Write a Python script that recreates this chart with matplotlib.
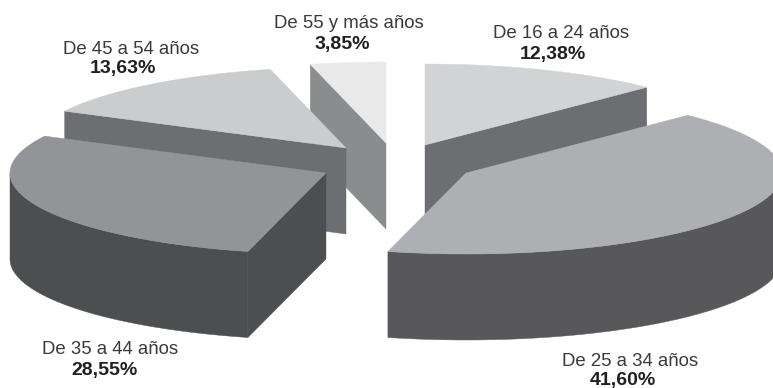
import numpy as np
import matplotlib
matplotlib.use('Agg')
import matplotlib.pyplot as plt
from matplotlib.patches import Polygon

labels = ['De 16 a 24 años', 'De 25 a 34 años', 'De 35 a 44 años', 'De 45 a 54 años', 'De 55 y más años']
values = [12.38, 41.60, 28.55, 13.63, 3.85]
value_labels = ['12,38%', '41,60%', '28,55%', '13,63%', '3,85%']

top_colors = ['#d1d3d4', '#aeafb2', '#929497', '#cbcccd', '#e9e9ea']
side_colors = ['#6d6e71', '#58585a', '#4d4e50', '#6d6e71', '#8a8c8e']

# exploded pie layout, in pixels
apex = [(425, 145), (466, 173), (326, 173), (346, 148), (386, 143)]
draw_order = [0, 4, 3, 2, 1]
label_pos = [(561, 34), (630, 361), (110, 349), (131, 49), (349, 24)]
pct_pos = [(553, 54), (623, 381), (104, 370), (123, 69), (342, 44)]
RX, RY, DEPTH = 316, 81, 86

plt.rcParams['font.family'] = ['Liberation Sans', 'DejaVu Sans']

fig = plt.figure(figsize=(7.73, 3.88), dpi=100)
ax = fig.add_axes([0, 0, 1, 1])
ax.set_xlim(0, 773)
ax.set_ylim(388, 0)
ax.axis('off')


def rim(x0, y0, t):
    return np.column_stack([x0 + RX * np.sin(t), y0 - RY * np.cos(t)])


def add_face(pts, color, z):
    ax.add_patch(Polygon(pts, closed=True, fc=color, ec=color, lw=0.3, zorder=z))


edges = np.radians(np.concatenate([[0], np.cumsum(values)]) / sum(values) * 360)

for z, i in enumerate(draw_order):
    x0, y0 = apex[i]
    t0, t1 = edges[i], edges[i + 1]
    down = np.array([0, DEPTH])
    base = z * 10

    # cut faces, only the ones turned to the viewer
    for t, visible in ((t0, -np.sin(t0) > 1e-6), (t1, np.sin(t1) > 1e-6)):
        if visible:
            p = rim(x0, y0, np.array([t]))[0]
            c = np.array([x0, y0])
            add_face([c, p, p + down, c + down], side_colors[i], base + 1)

    # outer wall, front half only
    a, b = max(t0, np.pi / 2), min(t1, 3 * np.pi / 2)
    if b > a:
        arc = rim(x0, y0, np.linspace(a, b, 120))
        add_face(np.vstack([arc, (arc + down)[::-1]]), side_colors[i], base + 2)

    # top
    arc = rim(x0, y0, np.linspace(t0, t1, 160))
    add_face(np.vstack([[x0, y0], arc]), top_colors[i], base + 3)

for i in range(len(values)):
    ax.text(*label_pos[i], labels[i], ha='center', va='center', fontsize=13.4, color='#3a3a3c', zorder=100)
    ax.text(*pct_pos[i], value_labels[i], ha='center', va='center', fontsize=14, fontweight='bold',
            color='#231f20', zorder=100)

fig.savefig('out.png', dpi=100)
plt.close(fig)
